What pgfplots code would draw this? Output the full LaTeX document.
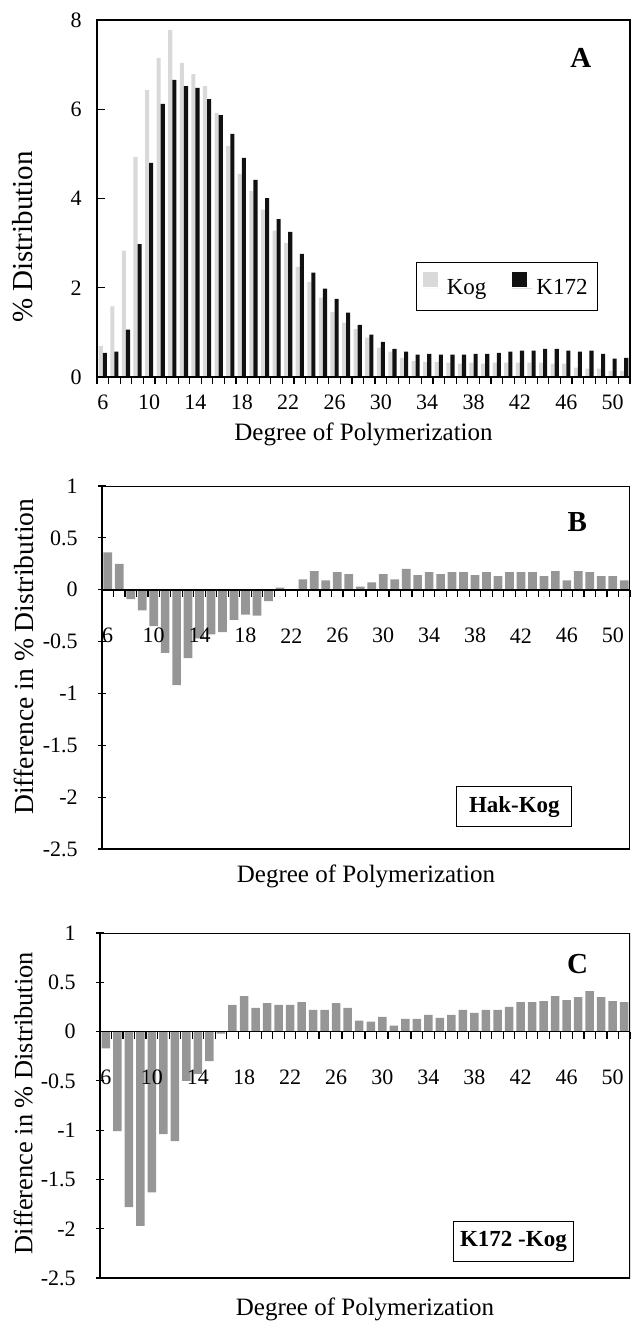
\documentclass[border=0pt]{standalone}
\usepackage{fontspec}
\setmainfont{Liberation Serif}
\usepackage{pgfplots}
\pgfplotsset{compat=1.18}
\usepackage{pgfplotstable}

\definecolor{koggray}{HTML}{D9D9D9}
\definecolor{kblack}{HTML}{111111}
\definecolor{diffgray}{HTML}{969696}

\pgfplotstableread{
dp kog k172 hak kk
6 0.70 0.54 0.36 -0.17
7 1.58 0.57 0.25 -1.01
8 2.83 1.06 -0.09 -1.78
9 4.93 2.98 -0.20 -1.97
10 6.43 4.80 -0.35 -1.63
11 7.15 6.12 -0.61 -1.04
12 7.78 6.66 -0.92 -1.11
13 7.04 6.52 -0.66 -0.50
14 6.79 6.48 -0.47 -0.43
15 6.52 6.23 -0.43 -0.30
16 5.92 5.87 -0.41 -0.02
17 5.18 5.45 -0.29 0.27
18 4.55 4.91 -0.24 0.36
19 4.17 4.42 -0.25 0.24
20 3.75 4.01 -0.11 0.29
21 3.28 3.54 0.02 0.27
22 3.00 3.25 0.00 0.27
23 2.47 2.76 0.10 0.30
24 2.13 2.34 0.18 0.22
25 1.78 1.98 0.09 0.22
26 1.46 1.75 0.17 0.29
27 1.22 1.44 0.15 0.24
28 1.08 1.17 0.03 0.11
29 0.88 0.95 0.07 0.10
30 0.66 0.79 0.15 0.15
31 0.57 0.63 0.10 0.06
32 0.43 0.57 0.20 0.13
33 0.36 0.50 0.14 0.13
34 0.34 0.52 0.17 0.17
35 0.34 0.50 0.15 0.14
36 0.32 0.50 0.17 0.17
37 0.30 0.50 0.17 0.22
38 0.32 0.52 0.14 0.19
39 0.30 0.52 0.17 0.22
40 0.32 0.54 0.13 0.22
41 0.32 0.57 0.17 0.25
42 0.32 0.59 0.17 0.30
43 0.32 0.59 0.17 0.30
44 0.32 0.63 0.13 0.31
45 0.30 0.63 0.18 0.36
46 0.30 0.59 0.09 0.32
47 0.21 0.57 0.18 0.35
48 0.19 0.59 0.17 0.41
49 0.19 0.52 0.13 0.35
50 0.14 0.41 0.13 0.31
51 0.14 0.43 0.09 0.30
}\datatable

\pgfplotsset{
  common/.style={
    scale only axis,
    xmin=5.5, xmax=51.5,
    xtick={6,10,...,50},
    xticklabels={6,10,14,18,22,26,30,34,38,42,46,50},
    minor xtick={5.5,6.5,...,51.5},
    major x tick style={draw=none},
    minor x tick style={black, line width=0.6pt},
    minor tick length=3.5pt,
    major tick length=4pt,
    xtick align=outside,
    ytick align=inside,
    ytick style={black, line width=0.6pt},
    tick label style={font=\fontsize{11}{13}\selectfont},
    axis line style={line width=0.7pt, -},
    axis on top,
    hide obscured x ticks=false,
    hide obscured y ticks=false,
  },
  diffaxis/.style={
    common,
    axis x line=middle,
    axis y line=left,
    axis line style={line width=0.7pt, -},
    x axis line style={line width=0.9pt},
    ymin=-2.5, ymax=1,
    ytick={-2.5,-2,-1.5,-1,-0.5,0,0.5,1},
    yticklabels={-2.5,-2,-1.5,-1,-0.5,0,0.5,1},
    yticklabel style={anchor=east, inner sep=0pt, xshift=-10pt},
    xticklabel style={anchor=center, inner sep=0pt, yshift=-19pt},
    ybar, bar shift=0pt,
  },
}

\begin{document}
\begin{tikzpicture}
\useasboundingbox (0,0) rectangle (315.5pt,-661pt);

% ---------- Panel A ----------
\begin{axis}[common,
  at={(48.5pt,-188.5pt)}, anchor=south west,
  width=266.5pt, height=178.5pt,
  tick pos=left,
  ymin=0, ymax=8,
  ytick={0,2,4,6,8}, yticklabels={0,2,4,6,8},
  yticklabel style={anchor=east, inner sep=0pt, xshift=-7.5pt},
  xticklabel style={anchor=center, inner sep=0pt, yshift=-8.5pt},
  ybar=0pt, bar width=2.05pt,
  every axis x label/.style={at={(axis description cs:0.5,-0.16)}, anchor=center, font=\fontsize{12.5}{15}\selectfont},
  every axis y label/.style={at={(axis description cs:-0.139,0.392)}, anchor=center, rotate=90, font=\fontsize{14.5}{17}\selectfont},
  xlabel={Degree of Polymerization},
  ylabel={\% Distribution},
  legend columns=2,
  legend style={at={(axis description cs:0.94,0.322)}, anchor=north east,
    draw=black, line width=0.5pt, font=\fontsize{11.5}{13}\selectfont,
    inner xsep=3pt, inner ysep=4.5pt,
    /tikz/every even column/.append style={column sep=11pt}},
  legend image code/.code={\fill[#1,draw=none] (0pt,0.8pt) rectangle (7.5pt,8.3pt); \path (0pt,0pt) -- (10pt,0pt);},
]
\addplot[fill=koggray, draw=none] table[x=dp, y=kog] {\datatable};
\addplot[fill=kblack, draw=none] table[x=dp, y=k172] {\datatable};
\legend{Kog, K172}
\node[font=\fontsize{14.5}{16}\selectfont\bfseries] at (rel axis cs:0.908,0.895) {A};
\end{axis}

% ---------- Panel B ----------
\begin{axis}[diffaxis,
  at={(51pt,-424.5pt)}, anchor=south west,
  width=264pt, height=181.5pt,
  bar width=4.35pt,
  every axis x label/.style={at={(axis description cs:0.5,-0.075)}, anchor=center, font=\fontsize{12.5}{15}\selectfont},
  every axis y label/.style={at={(axis description cs:-0.148,0.53)}, anchor=center, rotate=90, font=\fontsize{13.8}{16}\selectfont},
  xlabel={Degree of Polymerization},
  ylabel={Difference in \% Distribution},
]
\addplot[fill=diffgray, draw=none] table[x=dp, y=hak] {\datatable};
\draw[line width=0.7pt] (rel axis cs:0,0) rectangle (rel axis cs:1,1);
\node[font=\fontsize{14.5}{16}\selectfont\bfseries] at (rel axis cs:0.90,0.902) {B};
\node[draw=black, line width=0.5pt, fill=white, font=\fontsize{11.5}{13}\selectfont\bfseries,
  minimum width=57.5pt, minimum height=20pt, inner sep=0pt] at (rel axis cs:0.781,0.116) {Hak-Kog};
\end{axis}

% ---------- Panel C ----------
\begin{axis}[diffaxis,
  at={(50pt,-639pt)}, anchor=south west,
  width=265pt, height=172.5pt,
  bar width=4.25pt,
  every axis x label/.style={at={(axis description cs:0.5,-0.09)}, anchor=center, font=\fontsize{12.5}{15}\selectfont},
  every axis y label/.style={at={(axis description cs:-0.145,0.507)}, anchor=center, rotate=90, font=\fontsize{13.2}{16}\selectfont},
  xlabel={Degree of Polymerization},
  ylabel={Difference in \% Distribution},
]
\addplot[fill=diffgray, draw=none] table[x=dp, y=kk] {\datatable};
\draw[line width=0.7pt] (rel axis cs:0,0) rectangle (rel axis cs:1,1);
\node[font=\fontsize{14.5}{16}\selectfont\bfseries] at (rel axis cs:0.901,0.909) {C};
\node[draw=black, line width=0.5pt, fill=white, font=\fontsize{11.5}{13}\selectfont\bfseries,
  minimum width=60pt, minimum height=20pt, inner sep=0pt] at (rel axis cs:0.78,0.105) {K172 -Kog};
\end{axis}
\end{tikzpicture}
\end{document}
